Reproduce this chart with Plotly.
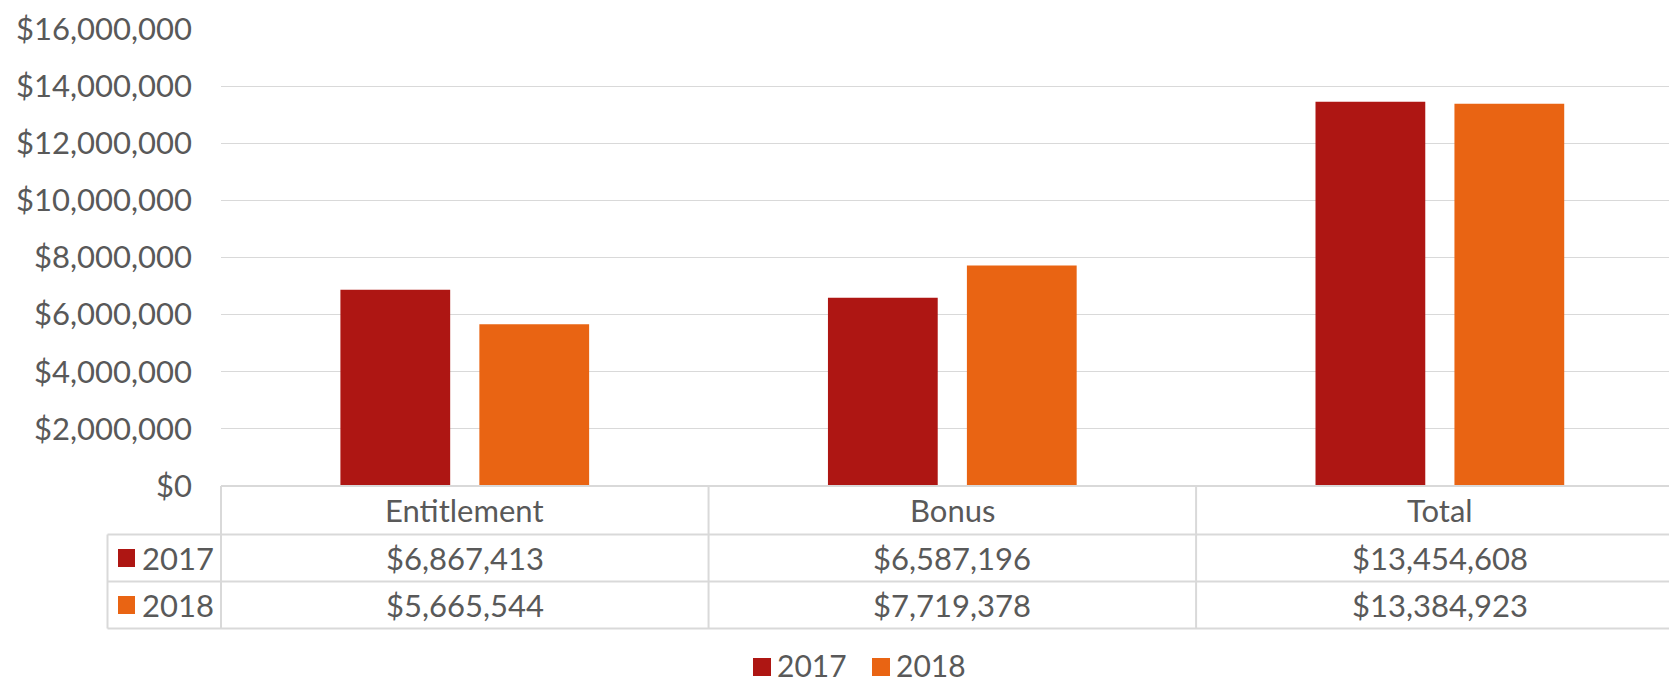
import plotly.graph_objects as go

# ---- data ----
categories = ["Entitlement", "Bonus", "Total"]
series_names = ["2017", "2018"]
values_2017 = [6867413, 6587196, 13454608]
values_2018 = [5665544, 7719378, 13384923]
y_tick_values = [0, 2000000, 4000000, 6000000, 8000000, 10000000, 12000000, 14000000, 16000000]
y_tick_labels = ["$" + f"{v:,}" for v in y_tick_values]

# ---- style ----
colors = ["#AE1613", "#E96413"]
text_color = "#595959"
line_color = "#D9D9D9"
font_family = "Lato, 'Open Sans', sans-serif"
font_size = 31

W, H = 1669, 683
ML, MR, MT, MB = 221, 0, 29, 197
PW = W - ML - MR
PH = H - MT - MB
X_RANGE = [-0.5, 2.47]


def px_x(px):
    return (px - ML) / PW


def px_y(py):
    return (H - MB - py) / PH


def cat_px(c):
    return ML + (c - X_RANGE[0]) / (X_RANGE[1] - X_RANGE[0]) * PW


fig = go.Figure()
for name, vals, col in zip(series_names, [values_2017, values_2018], colors):
    fig.add_trace(go.Bar(x=categories, y=vals, name=name, marker_color=col,
                         marker_line_width=0, showlegend=False))

# ---- data table ----
table_top = H - MB
header_bot = 534.5
row_bots = [581.5, 628.5]
key_left = 107.5
right_px = W + 20

shapes = []
def hline(y, x0, x1):
    shapes.append(dict(type="line", xref="paper", yref="paper",
                       x0=px_x(x0), x1=px_x(x1), y0=px_y(y), y1=px_y(y),
                       line=dict(color=line_color, width=2), layer="above"))

def vline(x, y0, y1):
    shapes.append(dict(type="line", xref="paper", yref="paper",
                       x0=px_x(x), x1=px_x(x), y0=px_y(y0), y1=px_y(y1),
                       line=dict(color=line_color, width=2), layer="above"))

hline(table_top, ML, right_px)
hline(header_bot, key_left, right_px)
for rb in row_bots:
    hline(rb, key_left, right_px)
vline(key_left, header_bot, row_bots[-1])
for i in range(len(categories) + 1):
    xb = cat_px(i - 0.5)
    if xb <= W:
        vline(xb, table_top, row_bots[-1])

annotations = []
font = dict(family=font_family, size=font_size, color=text_color)
header_mid = (table_top + header_bot) / 2
for c in categories:
    annotations.append(dict(x=c, xref="x", y=px_y(header_mid), yref="paper",
                            text=c, showarrow=False, font=font,
                            xanchor="center", yanchor="middle"))

row_tops = [header_bot] + row_bots[:-1]
for r, (name, vals, col) in enumerate(zip(series_names, [values_2017, values_2018], colors)):
    mid = (row_tops[r] + row_bots[r]) / 2
    for c, v in zip(categories, vals):
        annotations.append(dict(x=c, xref="x", y=px_y(mid), yref="paper",
                                text="$" + f"{v:,}", showarrow=False, font=font,
                                xanchor="center", yanchor="middle"))
    # key square + label
    shapes.append(dict(type="rect", xref="paper", yref="paper",
                       x0=px_x(118), x1=px_x(135), y0=px_y(mid - 9), y1=px_y(mid + 9),
                       fillcolor=col, line=dict(width=0)))
    annotations.append(dict(x=px_x(140), xref="paper", y=px_y(mid), yref="paper",
                            text=name, showarrow=False, font=font,
                            xanchor="left", yanchor="middle"))

# ---- legend (bottom, centered) ----
leg_y = 665
leg_x = [753, 872]
leg_font = dict(family=font_family, size=30, color=text_color)
for name, col, lx in zip(series_names, colors, leg_x):
    shapes.append(dict(type="rect", xref="paper", yref="paper",
                       x0=px_x(lx), x1=px_x(lx + 18), y0=px_y(leg_y - 7), y1=px_y(leg_y + 11),
                       fillcolor=col, line=dict(width=0)))
    annotations.append(dict(x=px_x(lx + 23), xref="paper", y=px_y(leg_y), yref="paper",
                            text=name, showarrow=False, font=leg_font,
                            xanchor="left", yanchor="middle", borderpad=0))

fig.update_layout(
    width=W, height=H,
    margin=dict(l=ML, r=MR, t=MT, b=MB, pad=0),
    paper_bgcolor="white", plot_bgcolor="white",
    barmode="group", bargap=0.43, bargroupgap=0.21,
    font=font,
    shapes=shapes, annotations=annotations,
    xaxis=dict(type="category", range=X_RANGE, showticklabels=False, ticks="",
               showgrid=False, zeroline=False, showline=False, fixedrange=True),
    yaxis=dict(range=[0, 16000000], tickmode="array", tickvals=y_tick_values,
               ticktext=y_tick_labels, showgrid=True, gridcolor=line_color, gridwidth=1.3,
               zeroline=False, showline=False, ticks="", ticklabelstandoff=28,
               tickfont=font, fixedrange=True),
)

fig.write_html(
    "out.html",
    config={"displayModeBar": False},
    post_script="document.body.style.margin='0';document.body.style.overflow='hidden';",
)
